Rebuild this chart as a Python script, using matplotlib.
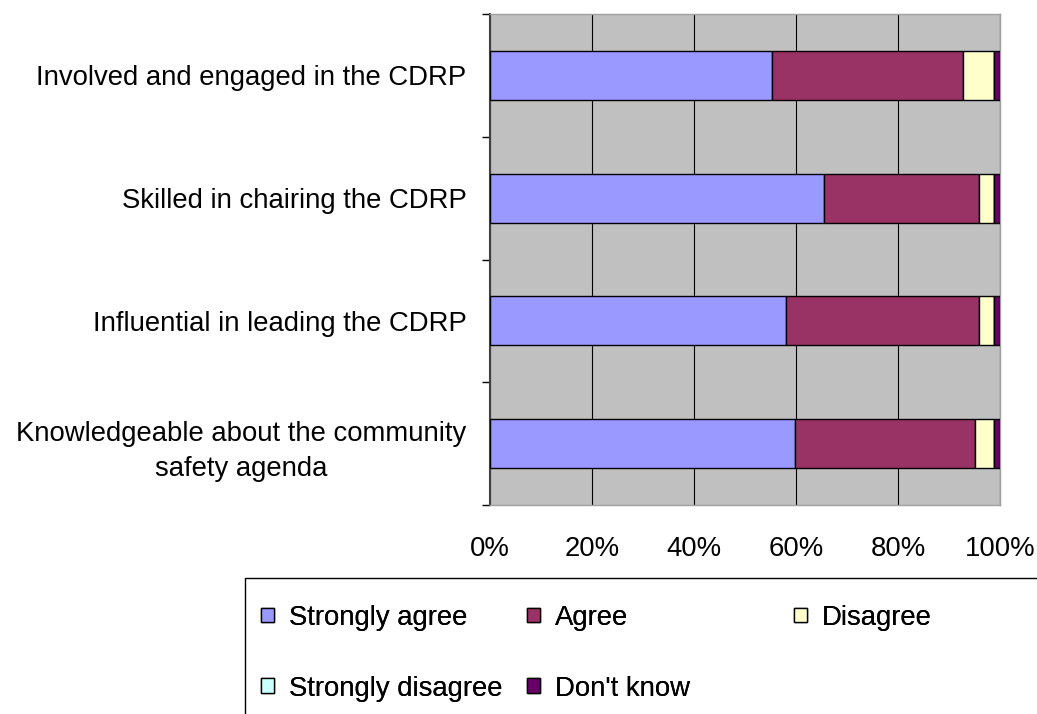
import matplotlib
matplotlib.use("Agg")
import matplotlib.pyplot as plt
from matplotlib.patches import Patch, Rectangle
import numpy as np

plt.rcParams['font.family'] = ['Liberation Sans', 'DejaVu Sans']

categories = [
    "Involved and engaged in the CDRP",
    "Skilled in chairing the CDRP",
    "Influential in leading the CDRP",
    "Knowledgeable about the community\nsafety agenda",
]
series_names = ["Strongly agree", "Agree", "Disagree", "Strongly disagree", "Don't know"]
strongly_agree = [55.3, 65.4, 58.0, 59.8]
agree = [37.5, 30.4, 37.8, 35.2]
disagree = [6.0, 3.0, 3.0, 3.8]
strongly_disagree = [0.0, 0.0, 0.0, 0.0]
dont_know = [1.2, 1.2, 1.2, 1.2]
colors = ["#9999FF", "#993366", "#FFFFCC", "#CCFFFF", "#660066"]
xtick_labels = ["0%", "20%", "40%", "60%", "80%", "100%"]

FS = 19.8
W, H = 1037, 714
fig = plt.figure(figsize=(W / 100, H / 100), dpi=100)
ax = fig.add_axes([490 / W, 1 - 505 / H, 510 / W, 491 / H])
ax.set_facecolor("#C0C0C0")

values = [strongly_agree, agree, disagree, strongly_disagree, dont_know]
ypos = np.arange(len(categories))[::-1]
left = np.zeros(len(categories))
for vals, col, name in zip(values, colors, series_names):
    v = np.array(vals)
    ax.barh(ypos, v, left=left, height=0.4, color=col, edgecolor="black",
            linewidth=1.0, label=name, zorder=3)
    left += v

ax.set_xlim(0, 100)
ax.set_ylim(-0.5, len(categories) - 0.5)

ax.set_xticks(np.arange(0, 101, 20))
ax.set_xticklabels(xtick_labels, fontsize=FS)
ax.tick_params(axis="x", length=0, pad=22)
ax.grid(axis="x", color="black", linewidth=0.8, zorder=1)

# category boundaries as outward ticks, labels at the bar centres
ax.set_yticks(np.arange(-0.5, len(categories), 1.0))
ax.set_yticklabels([])
ax.tick_params(axis="y", which="major", length=6, width=1, direction="out", color="black")
ax.set_yticks(ypos, minor=True)
ax.set_yticklabels(categories, minor=True, fontsize=FS, multialignment="center",
                   linespacing=1.45)
ax.tick_params(axis="y", which="minor", length=0, pad=17)

for s in ["top", "right", "bottom"]:
    ax.spines[s].set_color("#A0A0A0")
    ax.spines[s].set_linewidth(1)
ax.spines["left"].set_color("#404040")
ax.spines["left"].set_linewidth(1.5)

# legend frame running off the lower right edge
fig.add_artist(Rectangle((245 / W, -0.1), 1.0, 0.1 + (1 - 578 / H),
                         transform=fig.transFigure, facecolor="white",
                         edgecolor="black", linewidth=1, clip_on=False))

handles = [Patch(facecolor=c, edgecolor="black", linewidth=1) for c in colors]
columns = [([0, 3], 261), ([1, 4], 527), ([2], 794)]
for idx, xpix in columns:
    leg = fig.legend([handles[i] for i in idx], [series_names[i] for i in idx],
                     loc="upper left", bbox_to_anchor=(xpix / W, 1 - 605 / H),
                     bbox_transform=fig.transFigure, frameon=False, fontsize=FS,
                     handlelength=0.46, handleheight=0.44, handletextpad=0.55,
                     labelspacing=1.62, borderpad=0, borderaxespad=0)
    fig.add_artist(leg)

fig.savefig("out.png", dpi=100)
